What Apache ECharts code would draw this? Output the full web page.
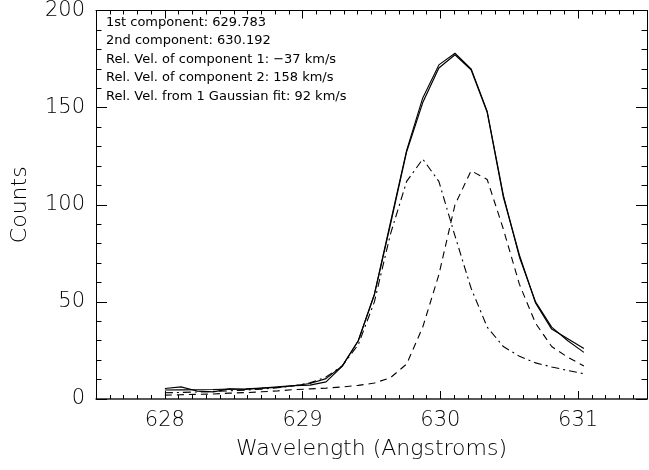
<!DOCTYPE html>
<html>
<head>
<meta charset="utf-8">
<script src="https://cdn.jsdelivr.net/npm/echarts@6/dist/echarts.min.js"></script>
<style>
  html, body { margin: 0; padding: 0; background: #fff; }
  #chart { width: 649px; height: 470px; }
</style>
</head>
<body>
<div id="chart"></div>
<script>
// Wavelength grid (Angstroms)
const wavelength = [628.000, 628.117, 628.234, 628.351, 628.468, 628.585, 628.702, 628.819, 628.936,
  629.053, 629.170, 629.287, 629.404, 629.521, 629.638, 629.755, 629.872, 629.989, 630.106,
  630.223, 630.340, 630.457, 630.574, 630.691, 630.808, 630.925, 631.042];
// Observed counts (solid)
const observed = [5.4, 6.2, 4.1, 3.7, 5.2, 4.9, 5.6, 6.3, 6.9, 7.1, 8.8, 16.8, 30, 53.7, 90, 127.3,
  152.6, 170.4, 177.2, 169.5, 147.6, 104, 74, 49.4, 36, 31, 26];
// Total fit (solid)
const totalFit = [4.6, 4.7, 4.8, 4.9, 5.1, 5.3, 5.6, 6.0, 6.8, 8.0, 10.5, 17, 30, 54, 91, 128,
  155, 172, 178, 170, 148, 105, 73, 50, 37, 30, 24];
// Component 1 (dash-dot)
const component1 = [3.2, 3.4, 3.6, 3.9, 4.2, 4.6, 5.1, 5.8, 6.8, 8.3, 11.3, 17, 28, 50, 85, 112,
  123.5, 112, 84, 57, 37, 27, 22, 18.6, 16.5, 14.7, 13];
// Component 2 (dashed)
const component2 = [2.0, 2.2, 2.4, 2.6, 3.0, 3.3, 3.7, 4.2, 4.8, 5.2, 5.6, 6.2, 7.0, 8.2, 11, 18,
  37, 64, 100, 117.5, 113, 87.5, 59, 39, 27, 21.5, 17];
// Annotation lines
const notes = [
  '1st component: 629.783',
  '2nd component: 630.192',
  'Rel. Vel. of component 1: \u221237 km/s',
  'Rel. Vel. of component 2: 158 km/s',
  'Rel. Vel. from 1 Gaussian fit: 92 km/s'
];
const xTitle = 'Wavelength (Angstroms)';
const yTitle = 'Counts';

const FONT = 'DejaVu Sans';
const chart = echarts.init(document.getElementById('chart'), null, { renderer: 'canvas' });

function pairs(ys) { return wavelength.map((x, i) => [x, ys[i]]); }

const axisLine = { show: true, onZero: false, lineStyle: { color: '#000', width: 1 } };
const labelStyle = { fontFamily: FONT, fontSize: 21, color: '#000', fontWeight: 200 };

const option = {
  animation: false,
  backgroundColor: '#fff',
  grid: { left: 96, right: 2, top: 5, bottom: 71, containLabel: false },
  xAxis: [
    {
      type: 'value', position: 'bottom', min: 627.5, max: 631.5, splitNumber: 4,
      name: xTitle, nameLocation: 'middle', nameGap: 39,
      nameTextStyle: Object.assign({}, labelStyle, { fontSize: 22 }),
      axisLine: { show: true, onZero: false, lineStyle: { color: '#222', width: 1.5 } },
      axisTick: { show: true, inside: true, length: 8, lineStyle: { color: '#000' } },
      minorTick: { show: true, splitNumber: 10, length: 4, lineStyle: { color: '#000' } },
      axisLabel: Object.assign({ show: true, margin: 11, showMinLabel: false, showMaxLabel: false }, labelStyle),
      splitLine: { show: false }, minorSplitLine: { show: false }
    },
    {
      type: 'value', position: 'top', min: 627.5, max: 631.5, splitNumber: 4,
      axisLine: axisLine,
      axisTick: { show: true, inside: true, length: 8, lineStyle: { color: '#000' } },
      minorTick: { show: true, splitNumber: 10, length: 4, lineStyle: { color: '#000' } },
      axisLabel: { show: false }, splitLine: { show: false }
    }
  ],
  yAxis: [
    {
      type: 'value', position: 'left', min: 0, max: 200, interval: 50,
      name: yTitle, nameLocation: 'middle', nameGap: 65, nameRotate: 90,
      nameTextStyle: Object.assign({}, labelStyle, { fontSize: 22 }),
      axisLine: axisLine,
      axisTick: { show: true, inside: true, length: 11, lineStyle: { color: '#000' } },
      minorTick: { show: true, splitNumber: 5, length: 5.5, lineStyle: { color: '#000' } },
      axisLabel: Object.assign({ show: true, margin: 11 }, labelStyle),
      splitLine: { show: false }, minorSplitLine: { show: false }
    },
    {
      type: 'value', position: 'right', min: 0, max: 200, interval: 50,
      axisLine: axisLine,
      axisTick: { show: true, inside: true, length: 11, lineStyle: { color: '#000' } },
      minorTick: { show: true, splitNumber: 5, length: 5.5, lineStyle: { color: '#000' } },
      axisLabel: { show: false }, splitLine: { show: false }
    }
  ],
  graphic: notes.map((t, i) => ({
    type: 'text', left: 106, top: 16 + i * 18.5, silent: true,
    style: { text: t, fontFamily: FONT, fontSize: 13, fill: '#000', fontWeight: 'normal' }
  })),
  series: [
    { name: 'Observed', type: 'line', data: pairs(observed), showSymbol: false, symbol: 'none',
      lineStyle: { color: '#000', width: 1.2 }, z: 4 },
    { name: 'Fit', type: 'line', data: pairs(totalFit), showSymbol: false, symbol: 'none',
      lineStyle: { color: '#000', width: 1.1 }, z: 3 },
    { name: 'Component 1', type: 'line', data: pairs(component1), showSymbol: false, symbol: 'none',
      lineStyle: { color: '#000', width: 1.1, type: [8, 4, 2, 4] }, z: 2 },
    { name: 'Component 2', type: 'line', data: pairs(component2), showSymbol: false, symbol: 'none',
      lineStyle: { color: '#000', width: 1.1, type: [7, 5] }, z: 2 }
  ]
};
chart.setOption(option);
</script>
</body>
</html>
